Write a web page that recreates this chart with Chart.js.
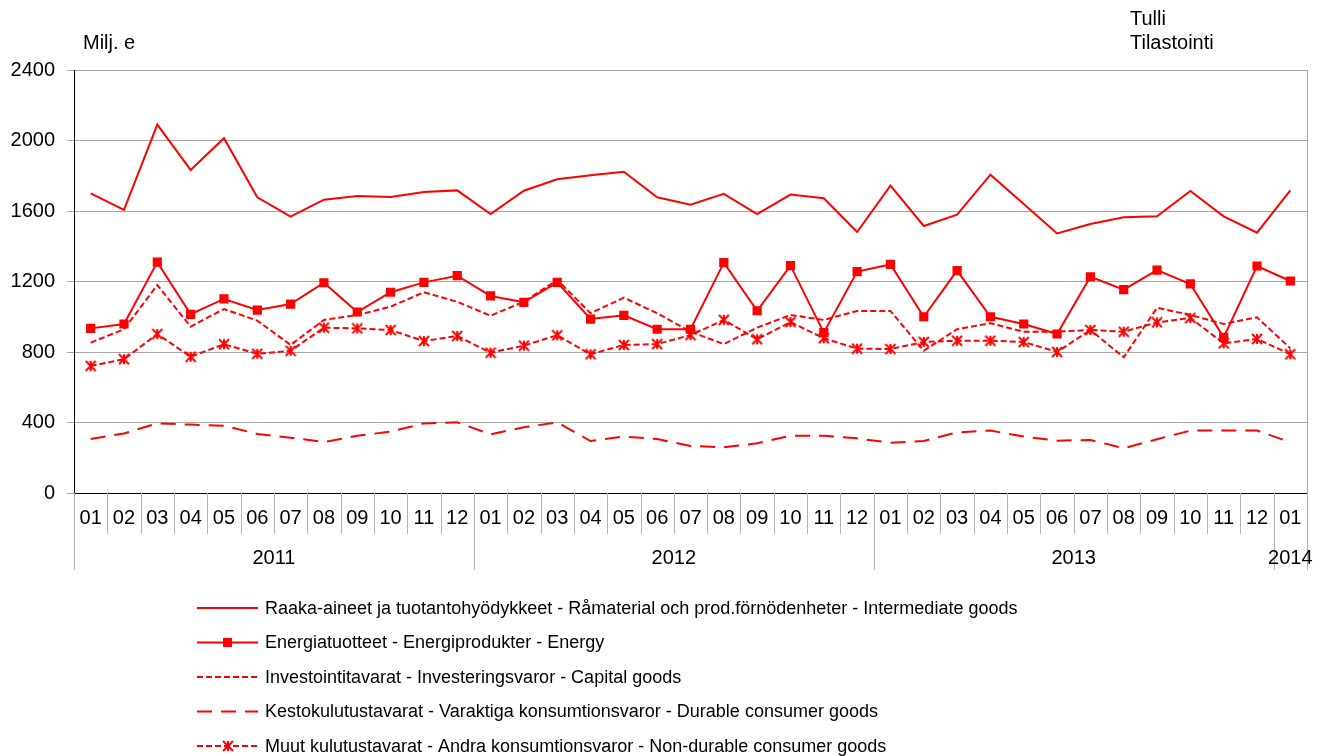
<!DOCTYPE html>
<html>
<head>
<meta charset="utf-8">
<script src="https://cdn.jsdelivr.net/npm/chart.js@4.4.1/dist/chart.umd.min.js"></script>
<style>
  html, body { margin: 0; padding: 0; background: #fff; }
  #wrap { position: relative; width: 1331px; height: 756px; }
  .note { position: absolute; font-family: "Liberation Sans", Arial, sans-serif; font-size: 20px; line-height: 24px; color: #000; }
</style>
</head>
<body>
<div id="wrap">
  <canvas id="chart" width="1331" height="756"></canvas>
  <div class="note" style="left:83px; top:30px;">Milj. e</div>
  <div class="note" style="left:1130px; top:6px;">Tulli<br>Tilastointi</div>
</div>
<script>
// months 2011-01 .. 2014-01
const months = ['01','02','03','04','05','06','07','08','09','10','11','12',
                '01','02','03','04','05','06','07','08','09','10','11','12',
                '01','02','03','04','05','06','07','08','09','10','11','12',
                '01'];
const years = ['2011', '2012', '2013', '2014'];
const yearLengths = [12, 12, 12, 1];

const yTicks = [0, 400, 800, 1200, 1600, 2000, 2400];

const seriesNames = [
  'Raaka-aineet ja tuotantohyödykkeet - Råmaterial och prod.förnödenheter - Intermediate goods',
  'Energiatuotteet - Energiprodukter - Energy',
  'Investointitavarat - Investeringsvaror - Capital goods',
  'Kestokulutustavarat - Varaktiga konsumtionsvaror - Durable consumer goods',
  'Muut kulutustavarat - Andra konsumtionsvaror - Non-durable consumer goods'
];

const intermediate = [1700, 1606, 2090, 1833, 2013, 1678, 1568, 1664, 1685, 1679, 1708, 1717,
                      1583, 1715, 1780, 1803, 1823, 1678, 1636, 1697, 1583, 1693, 1672, 1481,
                      1744, 1515, 1579, 1806, 1640, 1473, 1526, 1564, 1570, 1714, 1570, 1477,
                      1717];
const energy = [934, 959, 1310, 1014, 1101, 1038, 1072, 1193, 1027, 1139, 1195, 1233,
                1118, 1082, 1195, 987, 1008, 929, 929, 1307, 1034, 1290, 910, 1256,
                1297, 1000, 1262, 1000, 959, 902, 1227, 1154, 1265, 1186, 883, 1288,
                1203];
const capital = [853, 929, 1180, 944, 1044, 978, 840, 982, 1010, 1057, 1139, 1085,
                 1006, 1085, 1209, 1020, 1108, 1020, 915, 845, 938, 1010, 982, 1033,
                 1033, 807, 930, 963, 915, 915, 925, 770, 1051, 1010, 959, 997,
                 821];
const durable = [306, 338, 395, 388, 382, 335, 314, 289, 325, 348, 395, 401,
                 333, 373, 401, 295, 320, 306, 267, 259, 282, 325, 325, 310,
                 285, 295, 344, 354, 320, 297, 301, 254, 305, 354, 354, 354,
                 288];
const nonDurable = [721, 759, 902, 773, 844, 790, 807, 938, 934, 925, 862, 891,
                    796, 836, 895, 787, 840, 845, 896, 982, 872, 970, 878, 819,
                    817, 857, 864, 864, 857, 800, 925, 915, 968, 993, 849, 874,
                    787];

const RED = '#ff0000';
const FONT = '"Liberation Sans", Arial, sans-serif';

// Excel-style asterisk marker
function starMarker(size) {
  const c = document.createElement('canvas');
  c.width = size; c.height = size;
  const g = c.getContext('2d');
  const m = size / 2, r = size / 2 - 1;
  g.strokeStyle = RED;
  g.lineWidth = 2;
  g.beginPath();
  g.moveTo(m, m - r); g.lineTo(m, m + r);
  g.moveTo(m - r, m - r); g.lineTo(m + r, m + r);
  g.moveTo(m + r, m - r); g.lineTo(m - r, m + r);
  g.stroke();
  return c;
}
const star = starMarker(12);

const axisDecor = {
  id: 'axisDecor',
  afterDraw(chart) {
    const ctx = chart.ctx;
    const x = chart.scales.x;
    const area = chart.chartArea;
    const half = (x.getPixelForValue(1) - x.getPixelForValue(0)) / 2;
    ctx.save();

    // right border of the plot
    ctx.strokeStyle = '#a6a6a6';
    ctx.lineWidth = 1;
    ctx.beginPath();
    ctx.moveTo(Math.round(area.right) + 0.5, area.top);
    ctx.lineTo(Math.round(area.right) + 0.5, area.bottom);
    ctx.stroke();

    // separators between months and years
    const yearEdges = [0];
    yearLengths.forEach(n => yearEdges.push(yearEdges[yearEdges.length - 1] + n));
    ctx.strokeStyle = '#b4b4b4';
    for (let i = 0; i <= months.length; i++) {
      const px = Math.round(x.getPixelForValue(0) - half + i * 2 * half) + 0.5;
      const long = yearEdges.includes(i);
      ctx.beginPath();
      ctx.moveTo(px, area.bottom);
      ctx.lineTo(px, area.bottom + (long ? 77 : 41));
      ctx.stroke();
    }

    ctx.fillStyle = '#000';
    ctx.font = '20px ' + FONT;
    ctx.textAlign = 'center';
    ctx.textBaseline = 'middle';
    months.forEach((m, i) => ctx.fillText(m, x.getPixelForValue(i), area.bottom + 25));
    years.forEach((yr, k) => {
      const a = x.getPixelForValue(yearEdges[k]) - half;
      const b = x.getPixelForValue(yearEdges[k + 1] - 1) + half;
      ctx.fillText(yr, (a + b) / 2, area.bottom + 65);
    });

    // legend
    ctx.textAlign = 'left';
    ctx.font = '18px ' + FONT;
    chart.data.datasets.forEach((ds, i) => {
      const ly = 608 + i * 34.5;
      ctx.strokeStyle = RED;
      ctx.lineWidth = ds.borderWidth;
      ctx.setLineDash(ds.borderDash || []);
      ctx.beginPath();
      ctx.moveTo(197, ly);
      ctx.lineTo(258, ly);
      ctx.stroke();
      ctx.setLineDash([]);
      if (ds.pointStyle === 'rect') {
        ctx.fillStyle = RED;
        ctx.fillRect(223, ly - 4.5, 9, 9);
      } else if (ds.pointStyle && ds.pointStyle !== 'circle') {
        ctx.drawImage(ds.pointStyle, 228 - 6, ly - 6);
      }
      ctx.fillStyle = '#000';
      ctx.fillText(ds.label, 265, ly + 1);
    });
    ctx.restore();
  }
};

const baseSet = { borderColor: RED, backgroundColor: RED, borderWidth: 2, pointRadius: 0, tension: 0, fill: false };

new Chart(document.getElementById('chart').getContext('2d'), {
  type: 'line',
  data: {
    labels: months,
    datasets: [
      { ...baseSet, label: seriesNames[0], data: intermediate, pointStyle: 'circle' },
      { ...baseSet, label: seriesNames[1], data: energy, pointStyle: 'rect', pointRadius: 6.5, pointBorderWidth: 0 },
      { ...baseSet, label: seriesNames[2], data: capital, borderDash: [6, 3], pointStyle: 'circle' },
      { ...baseSet, label: seriesNames[3], data: durable, borderDash: [15, 9], pointStyle: 'circle' },
      { ...baseSet, label: seriesNames[4], data: nonDurable, borderDash: [6, 3], pointStyle: star, pointRadius: 6 }
    ]
  },
  options: {
    responsive: false,
    devicePixelRatio: 1,
    animation: false,
    layout: { padding: { top: 70, right: 24, left: 0, bottom: 0 } },
    plugins: { legend: { display: false }, tooltip: { enabled: false } },
    scales: {
      x: {
        offset: true,
        ticks: { display: false },
        grid: { display: false },
        border: { display: true, color: '#000', width: 1 },
        afterFit: s => { s.height = 263; }
      },
      y: {
        min: 0,
        max: 2400,
        afterBuildTicks: s => { s.ticks = yTicks.map(v => ({ value: v })); },
        ticks: { color: '#000', font: { family: FONT, size: 20 }, padding: 12, callback: v => String(v) },
        grid: { color: '#a6a6a6', tickLength: 7, drawTicks: true },
        border: { display: true, color: '#000', width: 1 },
        afterFit: s => { s.width = 74; }
      }
    }
  },
  plugins: [axisDecor]
});
</script>
</body>
</html>
